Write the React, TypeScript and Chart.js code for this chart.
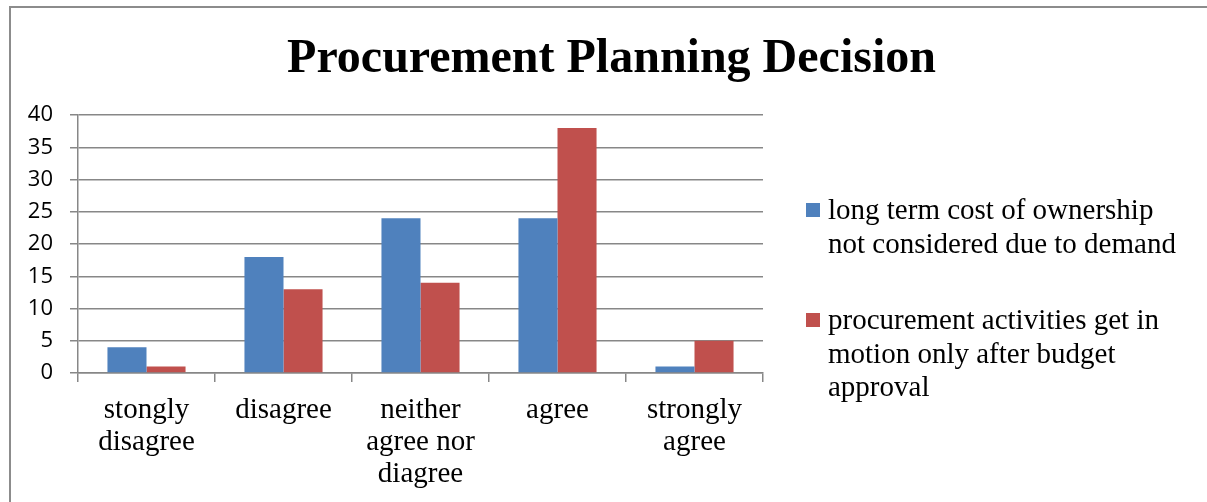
import { useEffect, useRef } from "react";
import { Chart, registerables } from "chart.js";

Chart.register(...registerables);

const chartTitle = "Procurement Planning Decision";
const categories: (string | string[])[] = [
  ["stongly", "disagree"],
  "disagree",
  ["neither", "agree nor", "diagree"],
  "agree",
  ["strongly", "agree"],
];
const seriesLongTerm = [4, 18, 24, 24, 1];
const seriesProcurement = [1, 13, 14, 38, 5];
const seriesNames = [
  ["long term cost of ownership", "not considered due to demand"],
  ["procurement activities get in", "motion only after budget", "approval"],
];
const seriesColors = ["#4F81BD", "#C0504D"];
const yMin = 0;
const yMax = 40;
const yStep = 5;

const W = 1207;
const H = 502;

const overlayPlugin = {
  id: "overlay",
  afterDraw(chart: any) {
    const ctx = chart.ctx as CanvasRenderingContext2D;
    const area = chart.chartArea;
    ctx.save();
    ctx.fillStyle = "#000";
    ctx.font = 'bold 48px "Liberation Serif"';
    ctx.textAlign = "center";
    ctx.textBaseline = "alphabetic";
    ctx.fillText(chartTitle, 611.5, 72);

    ctx.font = '29px "Liberation Serif"';
    ctx.textAlign = "left";
    const sqX = area.right + 43;
    const txtX = area.right + 65;
    const lh = 33.5;
    let y = 219;
    chart.data.datasets.forEach((ds: any, i: number) => {
      ctx.fillStyle = ds.backgroundColor;
      ctx.fillRect(sqX, y - 16, 14, 14);
      ctx.fillStyle = "#000";
      seriesNames[i].forEach((line, j) => ctx.fillText(line, txtX, y + j * lh));
      y += seriesNames[i].length * lh + 43;
    });
    ctx.restore();
  },
};

export default function App() {
  const ref = useRef<HTMLCanvasElement | null>(null);
  useEffect(() => {
    if (!ref.current) return;
    const gridColor = "#878787";
    const chart = new Chart(ref.current, {
      type: "bar",
      data: {
        labels: categories as any,
        datasets: [
          {
            label: seriesNames[0].join(" "),
            data: seriesLongTerm,
            backgroundColor: seriesColors[0],
            borderWidth: 0,
          },
          {
            label: seriesNames[1].join(" "),
            data: seriesProcurement,
            backgroundColor: seriesColors[1],
            borderWidth: 0,
          },
        ],
      },
      options: {
        responsive: false,
        animation: false,
        layout: { padding: { left: 0, top: 115, right: W - 763, bottom: 0 } },
        plugins: {
          legend: { display: false },
          title: { display: false },
          tooltip: { enabled: false },
        },
        datasets: {
          bar: { categoryPercentage: 0.57, barPercentage: 1 },
        },
        scales: {
          x: {
            grid: {
              drawOnChartArea: false,
              drawTicks: true,
              tickLength: 9,
              color: gridColor,
              lineWidth: 1.5,
            },
            border: { display: true, color: gridColor, width: 1.5 },
            ticks: {
              color: "#000",
              padding: 12,
              maxRotation: 0,
              autoSkip: false,
              font: { family: '"Liberation Serif"', size: 29, lineHeight: 32 / 29 },
            },
            afterFit: (s: any) => {
              s.height = H - 373;
            },
          },
          y: {
            min: yMin,
            max: yMax,
            grid: {
              color: gridColor,
              lineWidth: 1.5,
              tickLength: 8,
              drawTicks: true,
            },
            border: { display: true, color: gridColor, width: 1.5 },
            ticks: {
              stepSize: yStep,
              color: "#000",
              padding: 17,
              font: { family: '"Open Sans"', size: 22 },
            },
            afterFit: (s: any) => {
              s.width = 78;
            },
          },
        },
      },
      plugins: [overlayPlugin],
    });
    return () => chart.destroy();
  }, []);

  return (
    <div
      style={{
        position: "fixed",
        left: 0,
        top: 0,
        width: W,
        height: H,
        overflow: "hidden",
        background: "#fff",
      }}
    >
      <div
        style={{
          position: "absolute",
          left: 9,
          top: 6,
          width: 2000,
          height: 1000,
          borderTop: "2px solid #8c8c8c",
          borderLeft: "2px solid #8c8c8c",
          boxSizing: "border-box",
        }}
      />
      <canvas
        ref={ref}
        width={W}
        height={H}
        style={{ position: "absolute", left: 0, top: 0, width: W, height: H }}
      />
    </div>
  );
}
